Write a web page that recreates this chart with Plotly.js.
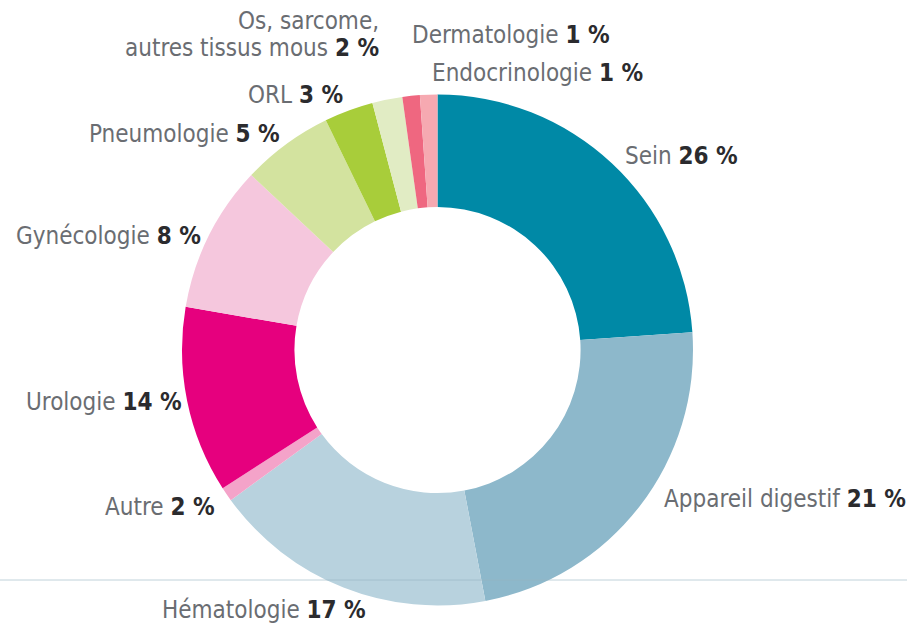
<!DOCTYPE html>
<html>
<head>
<meta charset="utf-8">
<script src="https://cdn.plot.ly/plotly-3.0.1.min.js"></script>
<style>
  html, body { margin: 0; padding: 0; background: #ffffff; }
  #chart { width: 907px; height: 627px; }
</style>
</head>
<body>
<div id="chart"></div>
<script>
// Categories in clockwise order starting at 12 o'clock
const categories = ["Sein", "Appareil digestif", "Hématologie", "Autre", "Urologie",
  "Gynécologie", "Pneumologie", "ORL", "Os, sarcome, autres tissus mous",
  "Dermatologie", "Endocrinologie"];
// Slice sizes (percent of the ring)
const sliceValues = [23.9, 23.1, 18.0, 0.9, 11.8, 9.3, 5.8, 3.1, 1.9, 1.1, 1.1];
// Percentages as printed in the labels
const labelPercents = ["26 %", "21 %", "17 %", "2 %", "14 %", "8 %", "5 %", "3 %", "2 %", "1 %", "1 %"];
const sliceColors = ["#0089a6", "#8db8cb", "#b8d2de", "#f4a3c9", "#e6007e",
  "#f5c7dd", "#d3e39f", "#a8cd3a", "#e1ecc4", "#ef6780", "#f6a9b1"];

const W = 907, H = 627;
const px = x => x / W;
const py = y => 1 - y / H;

const nameColor = "#6a6d72";
const pctColor = "#2b2b2e";
const font = {family: "DejaVu Sans Condensed, Liberation Sans Narrow, sans-serif", size: 24, color: nameColor};
const pct = i => '<span style="color:' + pctColor + '"><b>' + labelPercents[i] + '</b></span>';

// label placements: [category index, anchor x, centre y, xanchor, text override]
const placements = [
  [0, 623, 156, "left"],
  [1, 662, 499, "left"],
  [2, 160, 610, "left"],
  [3, 217, 507, "right"],
  [4, 184, 402, "right"],
  [5, 203, 236, "right"],
  [6, 282, 134, "right"],
  [7, 345, 95, "right"],
  [9, 410, 35, "left"],
  [10, 430, 73, "left"]
];

const annotations = placements.map(p => ({
  xref: "paper", yref: "paper", x: px(p[1]), y: py(p[2]),
  xanchor: p[3], yanchor: "middle", showarrow: false,
  text: categories[p[0]] + " " + pct(p[0]), font: font
}));
annotations.push({xref: "paper", yref: "paper", x: px(381), y: py(21), xanchor: "right",
  yanchor: "middle", showarrow: false, text: "Os, sarcome,", font: font});
annotations.push({xref: "paper", yref: "paper", x: px(381), y: py(48), xanchor: "right",
  yanchor: "middle", showarrow: false, text: "autres tissus mous " + pct(8), font: font});

const cx = 437.5, cy = 350, r = 255.5;

const trace = {
  type: "pie",
  labels: categories,
  values: sliceValues,
  sort: false,
  direction: "clockwise",
  rotation: 0,
  hole: 0.56,
  textinfo: "none",
  hoverinfo: "skip",
  marker: {colors: sliceColors, line: {width: 0}},
  domain: {x: [px(cx - r), px(cx + r)], y: [py(cy + r), py(cy - r)]},
  showlegend: false
};

const layout = {
  width: W, height: H,
  margin: {l: 0, r: 0, t: 0, b: 0},
  paper_bgcolor: "#ffffff",
  plot_bgcolor: "#ffffff",
  showlegend: false,
  annotations: annotations,
  shapes: [{type: "line", xref: "paper", yref: "paper", x0: 0, x1: 1, y0: py(580), y1: py(580),
    layer: "above", line: {color: "rgba(150,180,195,0.6)", width: 1}}]
};

Plotly.newPlot("chart", [trace], layout, {displayModeBar: false, staticPlot: true});
</script>
</body>
</html>
